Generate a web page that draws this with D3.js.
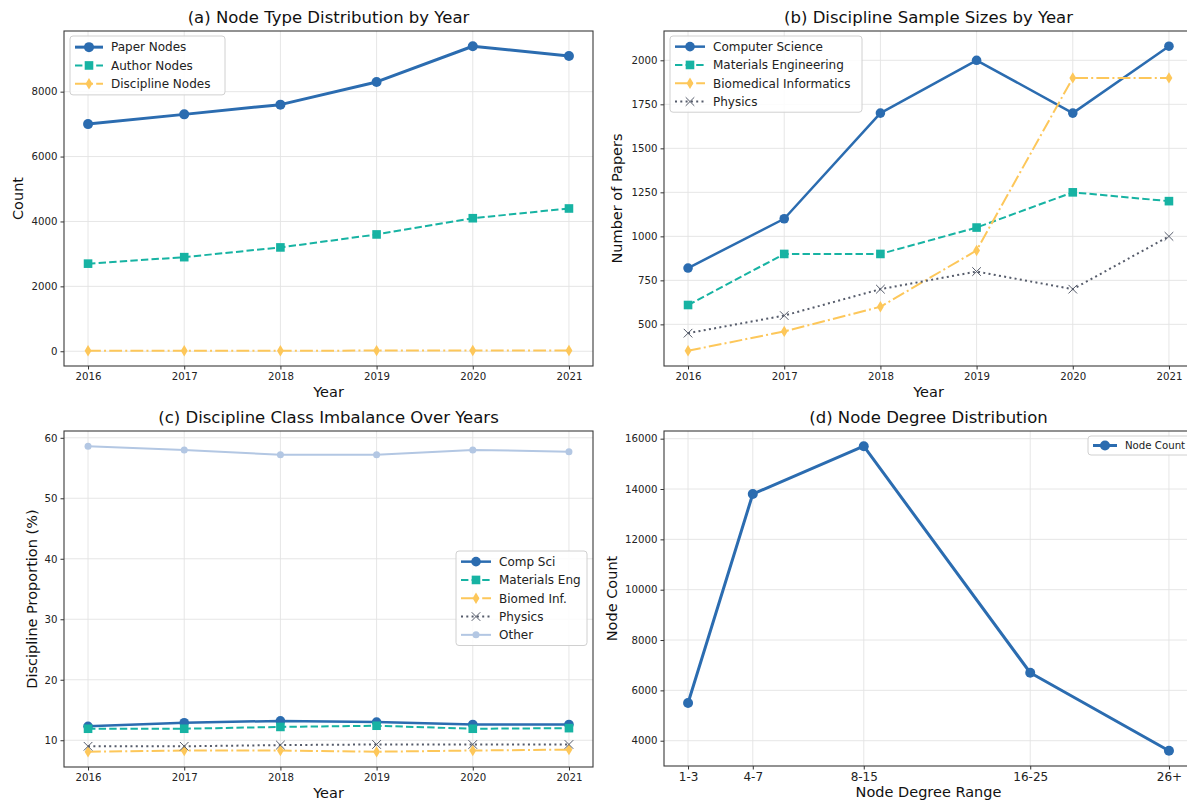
<!DOCTYPE html>
<html>
<head>
<meta charset="utf-8">
<script src="https://cdn.jsdelivr.net/npm/d3@7"></script>
<style>
  html, body { margin: 0; padding: 0; background: #fff; }
  svg { display: block; font-family: "DejaVu Sans", sans-serif; }
</style>
</head>
<body>
<svg id="chart" width="1187" height="803"></svg>
<script>
// ---- data ----
const years = [2016, 2017, 2018, 2019, 2020, 2021];

// (a) node counts per year
const paperNodes = [7000, 7300, 7600, 8300, 9400, 9100];
const authorNodes = [2700, 2900, 3200, 3600, 4100, 4400];
const disciplineNodes = [15, 16, 18, 20, 22, 24];

// (b) papers per discipline per year
const compSciPapers = [820, 1100, 1700, 2000, 1700, 2080];
const materialsPapers = [610, 900, 900, 1050, 1250, 1200];
const biomedPapers = [350, 460, 600, 920, 1900, 1900];
const physicsPapers = [450, 550, 700, 800, 700, 1000];

// (c) discipline shares (%)
const compSciShare = [12.3, 12.9, 13.2, 13.0, 12.6, 12.6];
const materialsShare = [11.9, 11.9, 12.2, 12.4, 11.9, 12.0];
const biomedShare = [8.1, 8.3, 8.3, 8.1, 8.3, 8.45];
const physicsShare = [9.0, 9.0, 9.2, 9.3, 9.3, 9.3];
const otherShare = [58.6, 58.0, 57.2, 57.2, 58.0, 57.7];

// (d) degree distribution
const degreeRanges = ["1-3", "4-7", "8-15", "16-25", "26+"];
const degreeMidpoints = [2, 5.5, 11.5, 20.5, 28];
const degreeCounts = [5500, 13800, 15700, 6700, 3600];

// tick values
const ticksA = [0, 2000, 4000, 6000, 8000];
const ticksB = [500, 750, 1000, 1250, 1500, 1750, 2000];
const ticksC = [10, 20, 30, 40, 50, 60];
const ticksD = [4000, 6000, 8000, 10000, 12000, 14000, 16000];

// ---- styles ----
const C = {
  blue: "#2b6cb0",
  teal: "#17b3a3",
  amber: "#fdc75a",
  slate: "#555b6a",
  pale: "#b3c7e3"
};
const DASH = {
  solid: null,
  dashed: "7.4,3.2",
  dashdot: "12.8,3.2,2,3.2",
  dotted: "2,3.3"
};

const svg = d3.select("#chart");

// marker shapes
const thinDiamond = {
  draw(ctx, size) {
    const h = Math.sqrt(size) * 0.62, w = h * 0.6;
    ctx.moveTo(0, -h); ctx.lineTo(w, 0); ctx.lineTo(0, h); ctx.lineTo(-w, 0); ctx.closePath();
  }
};
function drawMarker(g, type, x, y, color, size) {
  if (type === "circle") {
    g.append("circle").attr("cx", x).attr("cy", y).attr("r", size).attr("fill", color);
  } else if (type === "square") {
    g.append("rect").attr("x", x - size).attr("y", y - size)
      .attr("width", size * 2).attr("height", size * 2).attr("fill", color);
  } else if (type === "diamond") {
    g.append("path").attr("transform", `translate(${x},${y})`)
      .attr("d", d3.symbol().type(thinDiamond).size(size * size * 4)()).attr("fill", color);
  } else if (type === "x") {
    g.append("path").attr("transform", `translate(${x},${y})`)
      .attr("d", `M${-size},${-size}L${size},${size}M${-size},${size}L${size},${-size}`)
      .attr("stroke", color).attr("stroke-width", 1).attr("fill", "none");
  }
}

function padded(vals) {
  const [lo, hi] = d3.extent(vals);
  const p = (hi - lo) * 0.05;
  return [lo - p, hi + p];
}

function panel(cfg) {
  const { left, right, top, bottom } = cfg.box;
  const g = svg.append("g");
  const x = d3.scaleLinear().domain(padded(cfg.xValues)).range([left, right]);
  const y = d3.scaleLinear().domain(padded(cfg.series.flatMap(s => s.values))).range([bottom, top]);

  // grid
  const grid = g.append("g").attr("stroke", "#e3e3e3").attr("stroke-width", 0.9);
  cfg.xValues.forEach(v => grid.append("line").attr("x1", x(v)).attr("x2", x(v)).attr("y1", top).attr("y2", bottom));
  cfg.yTicks.forEach(v => grid.append("line").attr("x1", left).attr("x2", right).attr("y1", y(v)).attr("y2", y(v)));

  // axes
  const xAxis = d3.axisBottom(x).tickValues(cfg.xValues).tickSizeOuter(0).tickSize(3.5).tickPadding(3)
    .tickFormat((d, i) => cfg.xLabels[i]);
  const xg = g.append("g").attr("transform", `translate(0,${bottom})`).call(xAxis);
  xg.select(".domain").remove();
  xg.selectAll("line").attr("stroke", "#333");
  xg.selectAll("text").attr("fill", "#222").attr("font-size", cfg.xTickSize || 10.2)
    .attr("font-family", "DejaVu Sans");

  const yAxis = d3.axisLeft(y).tickValues(cfg.yTicks).tickSizeOuter(0).tickSize(3.5).tickPadding(3)
    .tickFormat(d3.format("d"));
  const yg = g.append("g").attr("transform", `translate(${left},0)`).call(yAxis);
  yg.select(".domain").remove();
  yg.selectAll("line").attr("stroke", "#333");
  yg.selectAll("text").attr("fill", "#222").attr("font-size", 10.2).attr("font-family", "DejaVu Sans");

  // clip region for the data
  const clipId = "clip-" + cfg.id;
  svg.append("clipPath").attr("id", clipId).append("rect")
    .attr("x", left - 8).attr("y", top - 8).attr("width", right - left + 16).attr("height", bottom - top + 16);
  const plot = g.append("g").attr("clip-path", `url(#${clipId})`);

  cfg.series.forEach(s => {
    const line = d3.line().x((d, i) => x(cfg.xValues[i])).y(d => y(d));
    plot.append("path").datum(s.values).attr("d", line)
      .attr("fill", "none").attr("stroke", s.color).attr("stroke-width", s.width)
      .attr("stroke-dasharray", DASH[s.dash]).attr("stroke-linejoin", "round");
    s.values.forEach((v, i) => drawMarker(plot, s.marker, x(cfg.xValues[i]), y(v), s.color, s.msize));
  });

  // frame
  g.append("rect").attr("x", left).attr("y", top).attr("width", right - left).attr("height", bottom - top)
    .attr("fill", "none").attr("stroke", "#3a3a3a").attr("stroke-width", 1.1);

  // titles
  g.append("text").attr("x", (left + right) / 2).attr("y", top - 8).attr("text-anchor", "middle")
    .attr("font-size", 16.5).attr("fill", "#111").text(cfg.title);
  g.append("text").attr("x", (left + right) / 2).attr("y", bottom + 31).attr("text-anchor", "middle")
    .attr("font-size", 14.5).attr("fill", "#111").text(cfg.xTitle);
  g.append("text").attr("transform", `translate(${cfg.yTitleX},${(top + bottom) / 2}) rotate(-90)`)
    .attr("text-anchor", "middle").attr("font-size", 14.5).attr("fill", "#111").text(cfg.yTitle);

  // legend
  const L = cfg.legend;
  const lg = g.append("g");
  lg.append("rect").attr("x", L.x).attr("y", L.y).attr("width", L.w)
    .attr("height", L.rowH * cfg.series.length + L.padV * 2)
    .attr("rx", 3).attr("fill", "rgba(255,255,255,0.85)").attr("stroke", "#d0d0d0").attr("stroke-width", 1);
  cfg.series.forEach((s, i) => {
    const cy = L.y + L.padV + L.rowH * (i + 0.5);
    const x0 = L.x + 5, x1 = x0 + L.sample;
    lg.append("line").attr("x1", x0).attr("x2", x1).attr("y1", cy).attr("y2", cy)
      .attr("stroke", s.color).attr("stroke-width", s.width).attr("stroke-dasharray", DASH[s.dash]);
    drawMarker(lg, s.marker, (x0 + x1) / 2, cy, s.color, s.msize);
    lg.append("text").attr("x", x1 + 8).attr("y", cy).attr("dy", "0.36em")
      .attr("font-size", L.fontSize).attr("fill", "#222").text(s.name);
  });
}

// (a)
panel({
  id: "a",
  box: { left: 64, right: 593, top: 31, bottom: 366 },
  xValues: years, xLabels: years.map(String),
  yTicks: ticksA,
  title: "(a) Node Type Distribution by Year", xTitle: "Year", yTitle: "Count", yTitleX: 23,
  series: [
    { name: "Paper Nodes", values: paperNodes, color: C.blue, width: 3, dash: "solid", marker: "circle", msize: 5 },
    { name: "Author Nodes", values: authorNodes, color: C.teal, width: 2, dash: "dashed", marker: "square", msize: 4.3 },
    { name: "Discipline Nodes", values: disciplineNodes, color: C.amber, width: 2, dash: "dashdot", marker: "diamond", msize: 4.6 }
  ],
  legend: { x: 70, y: 36, w: 155, rowH: 18.3, padV: 2, sample: 28, fontSize: 12 }
});

// (b)
panel({
  id: "b",
  box: { left: 664, right: 1193, top: 31, bottom: 366 },
  xValues: years, xLabels: years.map(String),
  yTicks: ticksB,
  title: "(b) Discipline Sample Sizes by Year", xTitle: "Year", yTitle: "Number of Papers", yTitleX: 622,
  series: [
    { name: "Computer Science", values: compSciPapers, color: C.blue, width: 2.5, dash: "solid", marker: "circle", msize: 4.8 },
    { name: "Materials Engineering", values: materialsPapers, color: C.teal, width: 2, dash: "dashed", marker: "square", msize: 4.3 },
    { name: "Biomedical Informatics", values: biomedPapers, color: C.amber, width: 2, dash: "dashdot", marker: "diamond", msize: 4.6 },
    { name: "Physics", values: physicsPapers, color: C.slate, width: 2, dash: "dotted", marker: "x", msize: 4.3 }
  ],
  legend: { x: 670, y: 36, w: 192, rowH: 18.3, padV: 1.5, sample: 30, fontSize: 12 }
});

// (c)
panel({
  id: "c",
  box: { left: 64, right: 593, top: 431, bottom: 767 },
  xValues: years, xLabels: years.map(String),
  yTicks: ticksC,
  title: "(c) Discipline Class Imbalance Over Years", xTitle: "Year", yTitle: "Discipline Proportion (%)", yTitleX: 37,
  series: [
    { name: "Comp Sci", values: compSciShare, color: C.blue, width: 2.5, dash: "solid", marker: "circle", msize: 4.8 },
    { name: "Materials Eng", values: materialsShare, color: C.teal, width: 2, dash: "dashed", marker: "square", msize: 4.3 },
    { name: "Biomed Inf.", values: biomedShare, color: C.amber, width: 2, dash: "dashdot", marker: "diamond", msize: 4.6 },
    { name: "Physics", values: physicsShare, color: C.slate, width: 2, dash: "dotted", marker: "x", msize: 4.3 },
    { name: "Other", values: otherShare, color: C.pale, width: 2, dash: "solid", marker: "circle", msize: 3.5 }
  ],
  legend: { x: 456, y: 551, w: 131, rowH: 18.3, padV: 1.5, sample: 30, fontSize: 12 }
});

// (d)
panel({
  id: "d",
  box: { left: 664, right: 1193, top: 431, bottom: 766 },
  xValues: degreeMidpoints, xLabels: degreeRanges, xTickSize: 12,
  yTicks: ticksD,
  title: "(d) Node Degree Distribution", xTitle: "Node Degree Range", yTitle: "Node Count", yTitleX: 617,
  series: [
    { name: "Node Count", values: degreeCounts, color: C.blue, width: 3, dash: "solid", marker: "circle", msize: 5 }
  ],
  legend: { x: 1088, y: 436, w: 108, rowH: 15, padV: 2, sample: 24, fontSize: 10.2 }
});
</script>
</body>
</html>
